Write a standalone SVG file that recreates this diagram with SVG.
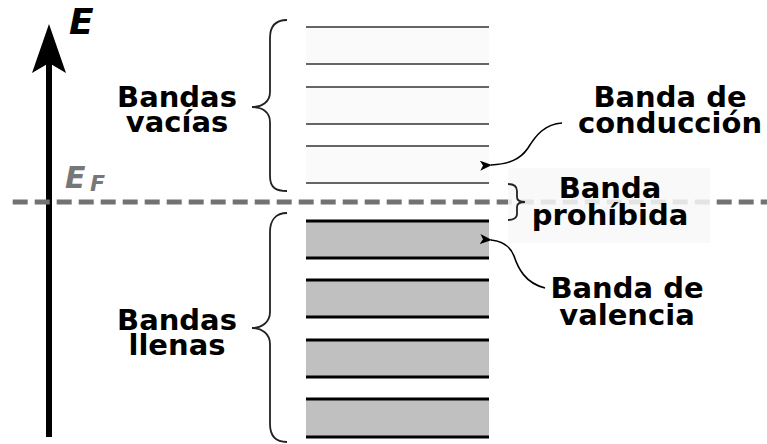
<svg xmlns="http://www.w3.org/2000/svg" width="767" height="444" viewBox="0 0 767 444">
<style>
.lbl{font-family:"DejaVu Sans",sans-serif;font-weight:bold;font-size:29px;fill:#000;text-anchor:middle}
.brace{fill:none;stroke:#222;stroke-width:1.8}
.empty{fill:#fafafa}
.eline{stroke:#333;stroke-width:1.6}
.full{fill:#c0c0c0}
.fline{stroke:#000;stroke-width:3}
.conn{fill:none;stroke:#000;stroke-width:1.6}
.ital{font-family:"DejaVu Sans",sans-serif;font-weight:bold;font-style:italic}
</style>
<defs>
<marker id="ah" viewBox="0 0 12 10" refX="1" refY="5" markerWidth="12" markerHeight="10" markerUnits="userSpaceOnUse" orient="auto">
<path d="M0,5 L12,0 L9,5 L12,10 Z" fill="#000"/>
</marker>
</defs>
<rect width="767" height="444" fill="#fff"/>
<g id="axis">
<line x1="49" y1="62" x2="49" y2="437" stroke="#000" stroke-width="6"/>
<polygon points="49,24 66,73 49,63 32,73" fill="#000"/>
<text class="ital" x="69" y="34" font-size="36">E</text>
</g>
<g id="empty-bands">
<rect class="empty" x="306" y="27" width="183" height="37"/>
<rect class="empty" x="306" y="87" width="183" height="37"/>
<rect class="empty" x="306" y="146" width="183" height="37"/>
<line class="eline" x1="306" y1="27" x2="489" y2="27"/>
<line class="eline" x1="306" y1="64" x2="489" y2="64"/>
<line class="eline" x1="306" y1="87" x2="489" y2="87"/>
<line class="eline" x1="306" y1="124" x2="489" y2="124"/>
<line class="eline" x1="306" y1="146" x2="489" y2="146"/>
<line class="eline" x1="306" y1="183" x2="489" y2="183"/>
</g>
<g id="full-bands">
<rect class="full" x="306" y="221" width="183" height="37"/>
<rect class="full" x="306" y="280" width="183" height="37"/>
<rect class="full" x="306" y="340" width="183" height="37"/>
<rect class="full" x="306" y="399" width="183" height="38"/>
<line class="fline" x1="306" y1="221" x2="489" y2="221"/>
<line class="fline" x1="306" y1="258" x2="489" y2="258"/>
<line class="fline" x1="306" y1="280" x2="489" y2="280"/>
<line class="fline" x1="306" y1="317" x2="489" y2="317"/>
<line class="fline" x1="306" y1="340" x2="489" y2="340"/>
<line class="fline" x1="306" y1="377" x2="489" y2="377"/>
<line class="fline" x1="306" y1="399" x2="489" y2="399"/>
<line class="fline" x1="306" y1="437" x2="489" y2="437"/>
</g>
<g id="fermi">
<line x1="12.7" y1="202" x2="767" y2="202" stroke="#727272" stroke-width="5" stroke-dasharray="15 7"/>
<text class="ital" x="65" y="188" font-size="30" fill="#777">E</text>
<text class="ital" x="90" y="191" font-size="22" fill="#777">F</text>
</g>
<g id="bandas-vacias">
<path class="brace" d="M287,20 C276,20 270,26 270,38 L270,92 C270,102 262,107 252,107 C262,107 270,112 270,122 L270,176 C270,188 276,191 287,191"/>
<text class="lbl" x="177" y="107">Bandas</text>
<text class="lbl" x="177" y="132">vacías</text>
</g>
<g id="bandas-llenas">
<path class="brace" d="M287,213 C276,213 270,220 270,232 L270,312 C270,322 262,328 252,328 C262,328 270,334 270,344 L270,424 C270,436 276,442 287,442"/>
<text class="lbl" x="177" y="330">Bandas</text>
<text class="lbl" x="177" y="355">llenas</text>
</g>
<g id="banda-prohibida">
<rect x="508" y="168" width="202" height="75" fill="#f8f8f8" fill-opacity="0.85"/>
<path class="brace" d="M508,184 C513,184 517,186 517,191 L517,197 C517,200 520,202 525,202 C520,202 517,204 517,207 L517,214 C517,218 513,220 508,220"/>
<text class="lbl" x="610" y="198">Banda</text>
<text class="lbl" x="610" y="225">prohíbida</text>
</g>
<g id="banda-conduccion">
<text class="lbl" x="670" y="107">Banda de</text>
<text class="lbl" x="670" y="133">conducción</text>
</g>
<g id="banda-valencia">
<text class="lbl" x="627" y="298">Banda de</text>
<text class="lbl" x="627" y="325">valencia</text>
</g>
<g id="connectors">
<path class="conn" marker-end="url(#ah)" d="M562,123 C545,124 536,135 528,148 C520,160 508,164 491,165"/>
<path class="conn" marker-end="url(#ah)" d="M545,288 C525,283 518,268 514,256 C510,246 503,241 491,240"/>
</g>
</svg>
